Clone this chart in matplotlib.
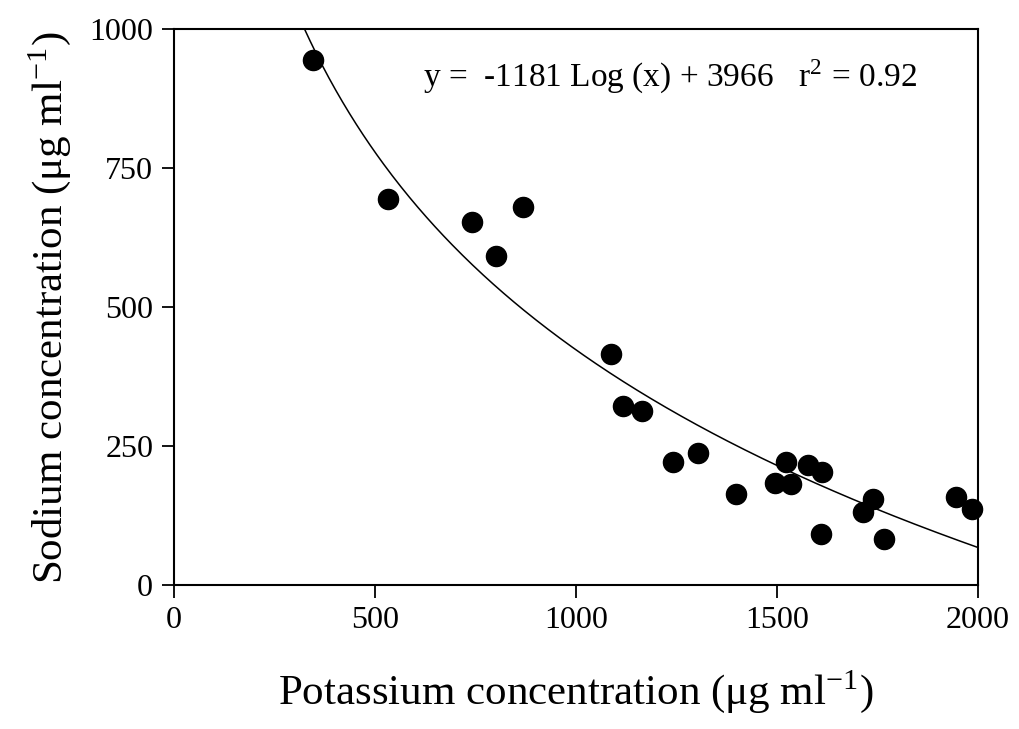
import numpy as np
import matplotlib
matplotlib.use("Agg")
import matplotlib.pyplot as plt

plt.rcParams['font.family'] = ['Liberation Serif', 'DejaVu Serif']
plt.rcParams['mathtext.fontset'] = 'stix'

# potassium (x) vs sodium (y)
potassium = [346, 532, 741, 801, 868, 1087, 1117, 1164, 1241, 1303, 1398,
             1495, 1522, 1535, 1577, 1612, 1609, 1714, 1739, 1766, 1945, 1985]
sodium = [944, 694, 653, 592, 680, 415, 322, 313, 221, 237, 164,
          183, 221, 182, 216, 203, 92, 131, 155, 83, 158, 137]

# fitted line y = a*log10(x) + b
fit_a = -1181
fit_b = 3966

xticks = [0, 500, 1000, 1500, 2000]
yticks = [0, 250, 500, 750, 1000]

fig = plt.figure(figsize=(10.2, 7.29), dpi=100)
ax = fig.add_axes([0.1706, 0.1975, 0.7882, 0.7627])

ax.scatter(potassium, sodium, s=210, color='black', zorder=3, clip_on=False)

xs = np.linspace(300, 2000, 400)
ys = fit_a * np.log10(xs) + fit_b
ax.plot(xs, ys, color='black', lw=1.1)

ax.set_xlim(0, 2000)
ax.set_ylim(0, 1000)
ax.set_xticks(xticks)
ax.set_yticks(yticks)
ax.tick_params(axis='both', direction='out', length=9, width=1.3,
               labelsize=23, pad=6)

for sp in ax.spines.values():
    sp.set_linewidth(1.5)

ax.text(0.31, 0.915, 'y =  -1181 Log (x) + 3966   r$^{\\mathregular{2}}$ = 0.92',
        transform=ax.transAxes, fontsize=24, va='center', ha='left')

ax.set_xlabel('Potassium concentration (μg ml$^{\\mathregular{-1}}$)', fontsize=31, labelpad=24)
ax.set_ylabel('Sodium concentration (μg ml$^{\\mathregular{-1}}$)', fontsize=31, labelpad=12)

fig.savefig('out.png', dpi=100)
